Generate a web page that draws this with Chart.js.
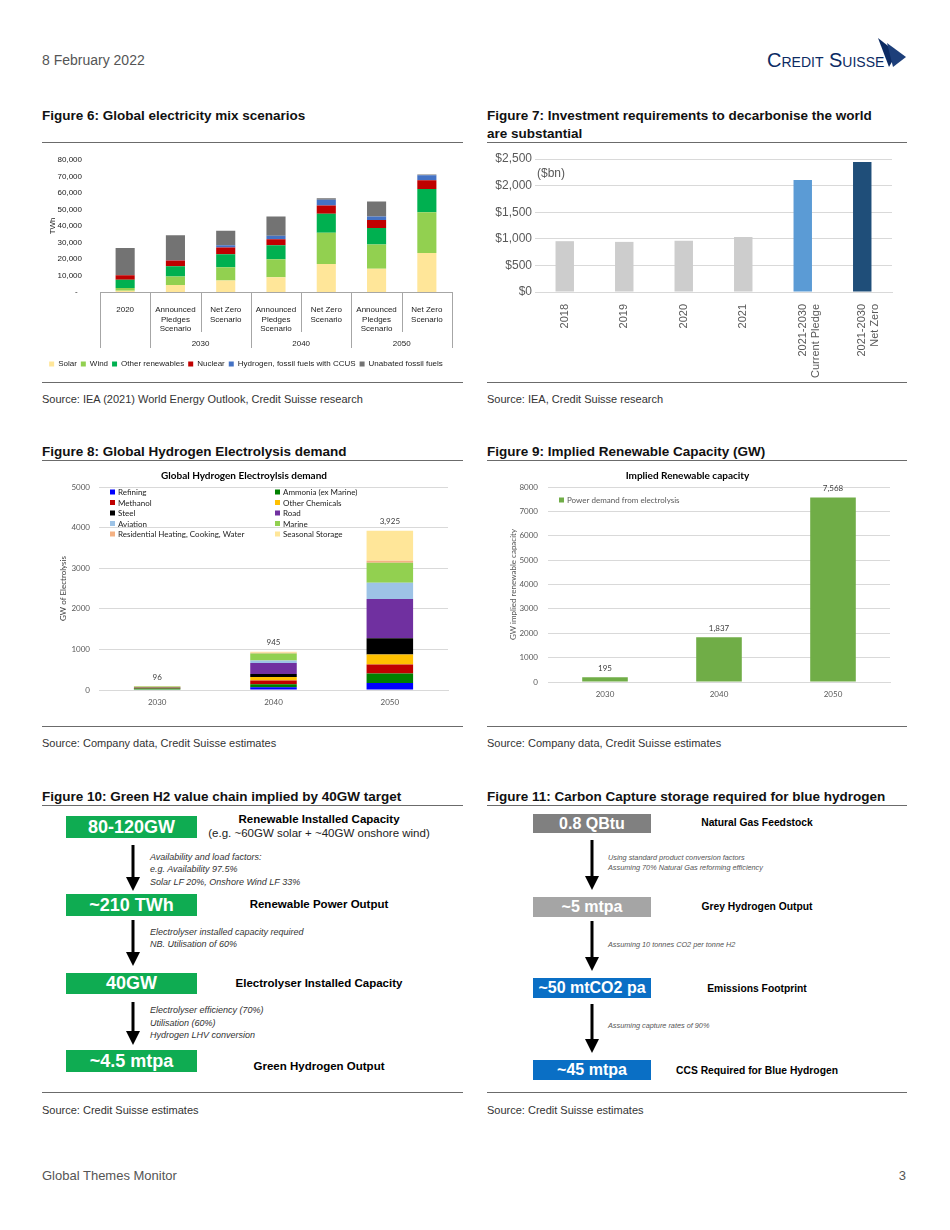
<!DOCTYPE html>
<html>
<head>
<meta charset="utf-8">
<title>Global Themes Monitor - page 3</title>
<script src="https://cdn.jsdelivr.net/npm/chart.js@4.4.1/dist/chart.umd.min.js"></script>
<style>
  body { margin:0; background:#fff; font-family:"Liberation Sans", Arial, sans-serif; }
  #page { position:relative; width:950px; height:1230px; overflow:hidden; }
  .t { position:absolute; white-space:nowrap; line-height:1; }
  .c { transform:translateX(-50%); }
  .ttl { font-size:13.5px; font-weight:bold; color:#111; }
  .src { font-size:11px; color:#333; }
  .rule { position:absolute; height:1px; background:#6b6b6b; }
  canvas { position:absolute; }
  .box { position:absolute; color:#fff; font-weight:bold; text-align:center; white-space:nowrap; }
  .g { background:#0FAC52; width:131px; left:66px; font-size:18px; }
  .h { left:533px; width:118px; font-size:16px; }
  .step { font-weight:bold; color:#000; }
  .note { position:absolute; font-style:italic; white-space:nowrap; }
</style>
</head>
<body>
<div id="page">

  <!-- entete -->
  <div class="t" style="left:42px;top:53px;font-size:14px;color:#555">8 February 2022</div>
  <div class="t" style="left:767px;top:50px;font-size:20px;color:#0c2b63;font-variant:small-caps">Credit Suisse</div>
  <svg class="t" style="left:0;top:0" width="950" height="80">
    <polygon points="878,38 897,53 889,67" fill="#0c2b63"/>
    <polygon points="887,43 906,57 893,67" fill="#1d3f7a"/>
  </svg>

  <!-- titres figures 6 / 7 -->
  <div class="t ttl" style="left:42px;top:109px">Figure 6: Global electricity mix scenarios</div>
  <div class="t ttl" style="left:487px;top:107px;line-height:18px">Figure 7: Investment requirements to decarbonise the world<br>are substantial</div>
  <div class="rule" style="left:42px;top:142px;width:421px"></div>
  <div class="rule" style="left:487px;top:142px;width:420px"></div>

  <canvas id="fig-mix" width="425" height="233" style="left:40px;top:145px"></canvas>
  <canvas id="fig-invest" width="425" height="232" style="left:485px;top:148px"></canvas>

  <div class="rule" style="left:42px;top:382px;width:421px"></div>
  <div class="rule" style="left:487px;top:382px;width:420px"></div>
  <div class="t src" style="left:42px;top:393.5px">Source: IEA (2021) World Energy Outlook, Credit Suisse research</div>
  <div class="t src" style="left:487px;top:393.5px">Source: IEA, Credit Suisse research</div>

  <!-- titres figures 8 / 9 -->
  <div class="t ttl" style="left:42px;top:445px">Figure 8: Global Hydrogen Electrolysis demand</div>
  <div class="t ttl" style="left:487px;top:445px">Figure 9: Implied Renewable Capacity (GW)</div>
  <div class="rule" style="left:42px;top:460px;width:421px"></div>
  <div class="rule" style="left:487px;top:460px;width:420px"></div>

  <canvas id="fig-h2" width="420" height="245" style="left:40px;top:467px"></canvas>
  <canvas id="fig-cap" width="420" height="245" style="left:485px;top:467px"></canvas>

  <div class="rule" style="left:42px;top:726px;width:421px"></div>
  <div class="rule" style="left:487px;top:726px;width:420px"></div>
  <div class="t src" style="left:42px;top:737.5px">Source: Company data, Credit Suisse estimates</div>
  <div class="t src" style="left:487px;top:737.5px">Source: Company data, Credit Suisse estimates</div>

  <!-- titres figures 10 / 11 -->
  <div class="t ttl" style="left:42px;top:789.5px">Figure 10: Green H2 value chain implied by 40GW target</div>
  <div class="t ttl" style="left:487px;top:789.5px">Figure 11: Carbon Capture storage required for blue hydrogen</div>
  <div class="rule" style="left:42px;top:805px;width:421px"></div>
  <div class="rule" style="left:487px;top:805px;width:420px"></div>

  <!-- figure 10 : chaine verte -->
  <div class="box g" style="top:816px;height:22px;line-height:22px">80-120GW</div>
  <div class="box g" style="top:894px;height:22px;line-height:22px">~210 TWh</div>
  <div class="box g" style="top:973px;height:21px;line-height:21px">40GW</div>
  <div class="box g" style="top:1050px;height:22px;line-height:22px">~4.5 mtpa</div>

  <div class="t c step" style="left:319px;top:814.3px;font-size:11.5px">Renewable Installed Capacity</div>
  <div class="t c" style="left:319px;top:828.3px;font-size:11.5px;color:#222">(e.g. ~60GW solar + ~40GW onshore wind)</div>
  <div class="t c step" style="left:319px;top:899.3px;font-size:11.5px">Renewable Power Output</div>
  <div class="t c step" style="left:319px;top:978.3px;font-size:11.5px">Electrolyser Installed Capacity</div>
  <div class="t c step" style="left:319px;top:1061.3px;font-size:11.5px">Green Hydrogen Output</div>

  <div class="note" style="left:150px;top:850.7px;font-size:9px;line-height:12.5px;color:#333">Availability and load factors:<br>e.g. Availability 97.5%<br>Solar LF 20%, Onshore Wind LF 33%</div>
  <div class="note" style="left:150px;top:925.7px;font-size:9px;line-height:12.5px;color:#333">Electrolyser installed capacity required<br>NB. Utilisation of 60%</div>
  <div class="note" style="left:150px;top:1004.2px;font-size:9px;line-height:12.5px;color:#333">Electrolyser efficiency (70%)<br>Utilisation (60%)<br>Hydrogen LHV conversion</div>

  <!-- figure 11 : chaine bleue -->
  <div class="box h" style="top:814px;height:19px;line-height:19px;background:#808080">0.8 QBtu</div>
  <div class="box h" style="top:897px;height:20px;line-height:20px;background:#a5a5a5">~5 mtpa</div>
  <div class="box h" style="top:978px;height:20px;line-height:20px;background:#0a6fc5">~50 mtCO2 pa</div>
  <div class="box h" style="top:1060px;height:20px;line-height:20px;background:#0a6fc5">~45 mtpa</div>

  <div class="t c step" style="left:757px;top:817.9px;font-size:10.3px">Natural Gas Feedstock</div>
  <div class="t c step" style="left:757px;top:901.9px;font-size:10.3px">Grey Hydrogen Output</div>
  <div class="t c step" style="left:757px;top:983.9px;font-size:10.3px">Emissions Footprint</div>
  <div class="t c step" style="left:757px;top:1065.9px;font-size:10.3px">CCS Required for Blue Hydrogen</div>

  <div class="note" style="left:608px;top:853.3px;font-size:7.3px;line-height:10px;color:#555">Using standard product conversion factors<br>Assuming 70% Natural Gas reforming efficiency</div>
  <div class="note" style="left:608px;top:940px;font-size:7.3px;line-height:10px;color:#555">Assuming 10 tonnes CO2 per tonne H2</div>
  <div class="note" style="left:608px;top:1021px;font-size:7.3px;line-height:10px;color:#555">Assuming capture rates of 90%</div>

  <!-- fleches -->
  <svg class="t" style="left:0;top:800px" width="950" height="280">
    <g stroke="#000" stroke-width="3">
      <line x1="133" y1="45" x2="133" y2="78"/>
      <line x1="133" y1="120" x2="133" y2="153"/>
      <line x1="133" y1="202" x2="133" y2="232"/>
      <line x1="592" y1="40" x2="592" y2="77"/>
      <line x1="592" y1="121" x2="592" y2="158"/>
      <line x1="592" y1="204" x2="592" y2="240"/>
    </g>
    <g fill="#000">
      <polygon points="126,77 140,77 133,91"/>
      <polygon points="126,152 140,152 133,166"/>
      <polygon points="126,231 140,231 133,245"/>
      <polygon points="585,76 599,76 592,90"/>
      <polygon points="585,157 599,157 592,171"/>
      <polygon points="585,239 599,239 592,253"/>
    </g>
  </svg>

  <div class="rule" style="left:42px;top:1092px;width:421px"></div>
  <div class="rule" style="left:487px;top:1092px;width:420px"></div>
  <div class="t src" style="left:42px;top:1104.5px">Source: Credit Suisse estimates</div>
  <div class="t src" style="left:487px;top:1104.5px">Source: Credit Suisse estimates</div>

  <!-- pied de page -->
  <div class="t" style="left:42px;top:1168.5px;font-size:13px;color:#555">Global Themes Monitor</div>
  <div class="t" style="right:44px;top:1168.5px;font-size:13px;color:#555">3</div>
</div>

<script>
//----------------------------------donnees

// figure 6 : mix electrique (TWh)
const mixCats = ['2020', ['Announced', 'Pledges', 'Scenario'], ['Net Zero', 'Scenario'], ['Announced', 'Pledges', 'Scenario'], ['Net Zero', 'Scenario'], ['Announced', 'Pledges', 'Scenario'], ['Net Zero', 'Scenario']];
const mixGroups = ['', '2030', '2040', '2050'];
const mixGroupSpan = [1, 2, 2, 2];
const mixNames = ['Solar', 'Wind', 'Other renewables', 'Nuclear', 'Hydrogen, fossil fuels with CCUS', 'Unabated fossil fuels'];
const mixSolar = [800, 4200, 7000, 9000, 17000, 14000, 23600];
const mixWind = [1600, 5200, 8000, 10800, 18900, 14700, 24700];
const mixOtherRen = [5000, 6200, 7800, 8500, 11400, 10000, 14000];
const mixNuclear = [2700, 3400, 4100, 3600, 5000, 4800, 5400];
const mixHydrogen = [0, 200, 1400, 2200, 3600, 2200, 3000];
const mixUnabated = [16500, 15100, 8800, 11600, 800, 9000, 400];
const mixValues = [mixSolar, mixWind, mixOtherRen, mixNuclear, mixHydrogen, mixUnabated];
const mixColors = ['#FFE699', '#92D050', '#00B050', '#C00000', '#4472C4', '#737373'];

// figure 7 : investissements ($bn)
const investCats = ['2018', '2019', '2020', '2021', ['2021-2030', 'Current Pledge'], ['2021-2030', 'Net Zero']];
const investValues = [955, 942, 961, 1036, 2104, 2443];
const investColors = ['#CDCDCD', '#CDCDCD', '#CDCDCD', '#CDCDCD', '#5B9BD5', '#1F4E79'];
const investUnit = '($bn)';

// figure 8 : demande electrolyse (GW)
const h2Years = ['2030', '2040', '2050'];
const h2Names = ['Refining', 'Ammonia (ex Marine)', 'Methanol', 'Other Chemicals', 'Steel', 'Road', 'Aviation', 'Marine', 'Residential Heating, Cooking, Water', 'Seasonal Storage'];
const h2Refining = [10, 65, 172];
const h2Ammonia = [30, 74, 237];
const h2Methanol = [8, 98, 221];
const h2OtherChem = [5, 82, 245];
const h2Steel = [8, 74, 401];
const h2Road = [12, 270, 965];
const h2Aviation = [3, 65, 401];
const h2Marine = [12, 172, 491];
const h2Residential = [2, 16, 49];
const h2Seasonal = [6, 29, 743];
const h2Values = [h2Refining, h2Ammonia, h2Methanol, h2OtherChem, h2Steel, h2Road, h2Aviation, h2Marine, h2Residential, h2Seasonal];
const h2Colors = ['#0000FF', '#008000', '#C00000', '#FFC000', '#000000', '#7030A0', '#9DC3E6', '#92D050', '#F4B183', '#FFE699'];

// figure 9 : capacite renouvelable (GW)
const capYears = ['2030', '2040', '2050'];
const capPower = [195, 1837, 7568];

//----------------------------------plugins

// separateurs et libelles de groupe sous l'axe x (figure 6)
const groupAxis = {
  id: 'groupAxis',
  afterDraw(chart) {
    const xs = chart.scales.x, ctx = chart.ctx;
    const n = chart.data.labels.length;
    const half = (xs.getPixelForTick(1) - xs.getPixelForTick(0)) / 2;
    let starts = [], k = 0;
    mixGroupSpan.forEach(s => { starts.push(k); k += s; });
    ctx.save();
    ctx.strokeStyle = '#A6A6A6';
    ctx.lineWidth = 1;
    for (let i = 0; i <= n; i++) {
      const px = i < n ? xs.getPixelForTick(i) - half : xs.getPixelForTick(n - 1) + half;
      const x = Math.round(px) + 0.5;
      const isGroup = i === n || starts.includes(i);
      ctx.beginPath();
      ctx.moveTo(x, xs.top);
      ctx.lineTo(x, xs.top + (isGroup ? 56 : 40));
      ctx.stroke();
    }
    ctx.fillStyle = '#222';
    ctx.font = '8px "Liberation Sans"';
    ctx.textAlign = 'center';
    ctx.textBaseline = 'middle';
    mixGroups.forEach((lab, g) => {
      const a = xs.getPixelForTick(starts[g]);
      const b = xs.getPixelForTick(starts[g] + mixGroupSpan[g] - 1);
      ctx.fillText(lab, (a + b) / 2, xs.top + 52);
    });
    ctx.restore();
  }
};

// legende dans la zone du graphique, en colonnes
const boxLegend = {
  id: 'boxLegend',
  afterDraw(chart, args, o) {
    const ctx = chart.ctx, a = chart.chartArea;
    ctx.save();
    ctx.font = o.font;
    ctx.textBaseline = 'middle';
    ctx.textAlign = 'left';
    chart.data.datasets.forEach((ds, i) => {
      const col = i % o.cols, row = Math.floor(i / o.cols);
      const x = a.left + o.dx + col * o.colW;
      const y = a.top + o.dy + row * o.rowH;
      ctx.fillStyle = ds.backgroundColor;
      ctx.fillRect(x, y - o.box / 2, o.box, o.box);
      ctx.fillStyle = o.color;
      ctx.fillText(ds.label, x + o.box + 3, y + 0.5);
    });
    ctx.restore();
  }
};

// totaux au dessus des barres
const valueLabels = {
  id: 'valueLabels',
  afterDatasetsDraw(chart, args, o) {
    const ctx = chart.ctx;
    const last = chart.getDatasetMeta(chart.data.datasets.length - 1);
    ctx.save();
    ctx.font = o.font;
    ctx.fillStyle = o.color;
    ctx.textAlign = 'center';
    ctx.textBaseline = 'bottom';
    chart.data.labels.forEach((lab, i) => {
      let total = 0;
      chart.data.datasets.forEach(ds => total += ds.data[i]);
      const y = chart.scales.y.getPixelForValue(total) - o.gap;
      ctx.fillText(total.toLocaleString('en-US'), last.data[i].x, y);
    });
    ctx.restore();
  }
};

// unite ($bn) en haut a gauche
const unitNote = {
  id: 'unitNote',
  afterDraw(chart) {
    const ctx = chart.ctx, a = chart.chartArea;
    ctx.save();
    ctx.font = '12px "Liberation Sans"';
    ctx.fillStyle = '#595959';
    ctx.textBaseline = 'middle';
    ctx.fillText(investUnit, a.left + 2, a.top + 15);
    ctx.restore();
  }
};

Chart.defaults.font.family = '"Liberation Sans", Arial, sans-serif';
Chart.defaults.animation = false;

//----------------------------------figure 6
new Chart(document.getElementById('fig-mix'), {
  type: 'bar',
  data: {
    labels: mixCats,
    datasets: mixNames.map((name, i) => ({ label: name, data: mixValues[i], backgroundColor: mixColors[i] }))
  },
  options: {
    responsive: false,
    devicePixelRatio: 1,
    layout: { padding: { top: 4, right: 13, left: 0, bottom: 0 } },
    datasets: { bar: { barPercentage: 0.38, categoryPercentage: 1 } },
    scales: {
      x: {
        stacked: true,
        grid: { display: false },
        border: { color: '#A6A6A6' },
        ticks: { font: { size: 8 }, color: '#222', padding: 5, maxRotation: 0, autoSkip: false },
        afterFit(s) { s.height = 64; }
      },
      y: {
        stacked: true, min: 0, max: 80000,
        grid: { display: false },
        border: { display: false },
        ticks: { stepSize: 10000, font: { size: 8 }, color: '#222', padding: 10,
          callback: v => v === 0 ? '-  ' : v.toLocaleString('en-US') },
        title: { display: true, text: 'TWh', font: { size: 8 }, color: '#222', padding: { top: 8, bottom: 0 } },
        afterFit(s) { s.width = 60; }
      }
    },
    plugins: {
      legend: { position: 'bottom', labels: { boxWidth: 5, boxHeight: 5, font: { size: 8 }, color: '#222', padding: 4 } },
      tooltip: { enabled: false }
    }
  },
  plugins: [groupAxis]
});

//----------------------------------figure 7
new Chart(document.getElementById('fig-invest'), {
  type: 'bar',
  data: {
    labels: investCats,
    datasets: [{ data: investValues, backgroundColor: investColors, barPercentage: 0.31, categoryPercentage: 1 }]
  },
  options: {
    responsive: false,
    devicePixelRatio: 1,
    layout: { padding: { top: 11, right: 18, left: 0, bottom: 0 } },
    scales: {
      x: {
        grid: { display: false },
        border: { color: '#D9D9D9' },
        ticks: { font: { size: 11 }, color: '#595959', minRotation: 90, maxRotation: 90, padding: 4, autoSkip: false },
        afterFit(s) { s.height = 88; }
      },
      y: {
        min: 0, max: 2500,
        grid: { color: '#D9D9D9', drawTicks: false },
        border: { display: false },
        ticks: { stepSize: 500, font: { size: 12 }, color: '#595959', padding: 3,
          callback: v => '$' + v.toLocaleString('en-US') },
        afterFit(s) { s.width = 50; }
      }
    },
    plugins: { legend: { display: false }, tooltip: { enabled: false } }
  },
  plugins: [unitNote]
});

//----------------------------------figure 8
new Chart(document.getElementById('fig-h2'), {
  type: 'bar',
  data: {
    labels: h2Years,
    datasets: h2Names.map((name, i) => ({ label: name, data: h2Values[i], backgroundColor: h2Colors[i] }))
  },
  options: {
    responsive: false,
    devicePixelRatio: 1,
    layout: { padding: { top: 0, right: 12, left: 0, bottom: 0 } },
    datasets: { bar: { barPercentage: 0.4, categoryPercentage: 1 } },
    scales: {
      x: {
        stacked: true,
        grid: { display: false },
        border: { color: '#D9D9D9' },
        ticks: { font: { family: 'Lato', size: 8 }, color: '#595959', padding: 0 },
        afterFit(s) { s.height = 22; }
      },
      y: {
        stacked: true, min: 0, max: 5000,
        grid: { color: '#D9D9D9', drawTicks: false },
        border: { display: false },
        ticks: { stepSize: 1000, font: { family: 'Lato', size: 8 }, color: '#595959', padding: 9, callback: v => String(v) },
        title: { display: true, text: 'GW of Electrolysis', font: { family: 'Lato', size: 8 }, color: '#404040', padding: { top: 19, bottom: 0 } },
        afterFit(s) { s.width = 59; }
      }
    },
    plugins: {
      title: { display: true, text: 'Global Hydrogen Electroylsis demand', font: { family: 'Lato', size: 10, weight: 'bold' }, color: '#000', padding: { top: 3, bottom: 5 } },
      legend: { display: false },
      tooltip: { enabled: false },
      boxLegend: { cols: 2, colW: 165, rowH: 10.5, dx: 11, dy: 5, box: 5, font: '8px Lato', color: '#222' },
      valueLabels: { font: '8px Lato', color: '#404040', gap: 5 }
    }
  },
  plugins: [boxLegend, valueLabels]
});

//----------------------------------figure 9
new Chart(document.getElementById('fig-cap'), {
  type: 'bar',
  data: {
    labels: capYears,
    datasets: [{ label: 'Power demand from electrolysis', data: capPower, backgroundColor: '#70AD47', barPercentage: 0.4, categoryPercentage: 1 }]
  },
  options: {
    responsive: false,
    devicePixelRatio: 1,
    layout: { padding: { top: 0, right: 15, left: 0, bottom: 0 } },
    scales: {
      x: {
        grid: { display: false },
        border: { color: '#D9D9D9' },
        ticks: { font: { family: 'Lato', size: 8 }, color: '#595959', padding: 0 },
        afterFit(s) { s.height = 30; }
      },
      y: {
        min: 0, max: 8000,
        grid: { color: '#D9D9D9', drawTicks: false },
        border: { display: false },
        ticks: { stepSize: 1000, font: { family: 'Lato', size: 8 }, color: '#595959', padding: 10, callback: v => String(v) },
        title: { display: true, text: 'GW implied renewable capacity', font: { family: 'Lato', size: 8 }, color: '#595959', padding: { top: 24, bottom: 0 } },
        afterFit(s) { s.width = 63; }
      }
    },
    plugins: {
      title: { display: true, text: 'Implied Renewable capacity', font: { family: 'Lato', size: 10, weight: 'bold' }, color: '#000', padding: { top: 3, bottom: 5 } },
      legend: { display: false },
      tooltip: { enabled: false },
      boxLegend: { cols: 1, colW: 0, rowH: 10, dx: 11, dy: 13, box: 5, font: '8px Lato', color: '#595959' },
      valueLabels: { font: '8px Lato', color: '#404040', gap: 5 }
    }
  },
  plugins: [boxLegend, valueLabels]
});
</script>
</body>
</html>
